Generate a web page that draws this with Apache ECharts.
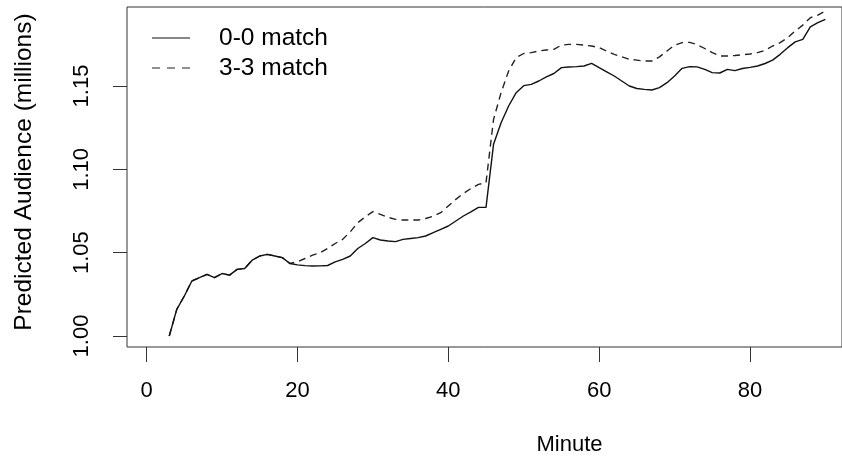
<!DOCTYPE html>
<html>
<head>
<meta charset="utf-8">
<script src="https://cdn.jsdelivr.net/npm/echarts@6/dist/echarts.min.js"></script>
<style>html,body{margin:0;padding:0;background:#fff}#c{width:842px;height:461px}</style>
</head>
<body>
<div id="c"></div>
<script>
const minutes = [3,4,5,6,7,8,9,10,11,12,13,14,15,16,17,18,19,20,21,22,23,24,25,26,27,28,29,30,31,32,33,34,35,36,37,38,39,40,41,42,43,44,45,46,47,48,49,50,51,52,53,54,55,56,57,58,59,60,61,62,63,64,65,66,67,68,69,70,71,72,73,74,75,76,77,78,79,80,81,82,83,84,85,86,87,88,89,90];
const match00 = [1.000,1.016,1.024,1.033,1.035,1.037,1.035,1.0375,1.0365,1.040,1.0405,1.0455,1.048,1.049,1.048,1.047,1.0435,1.0427,1.0422,1.042,1.0421,1.0423,1.0445,1.046,1.048,1.0525,1.0555,1.059,1.0576,1.057,1.0566,1.058,1.0585,1.059,1.060,1.062,1.064,1.066,1.069,1.072,1.0745,1.0772,1.0772,1.115,1.128,1.138,1.146,1.1502,1.151,1.153,1.1555,1.1575,1.161,1.1614,1.1616,1.162,1.1636,1.161,1.1585,1.156,1.153,1.150,1.1485,1.148,1.1476,1.149,1.152,1.156,1.1606,1.1616,1.1615,1.160,1.158,1.1578,1.160,1.1592,1.1605,1.1612,1.162,1.1635,1.1655,1.169,1.173,1.1765,1.178,1.1855,1.188,1.190];
const match33 = [1.000,1.016,1.024,1.033,1.035,1.037,1.035,1.0375,1.0365,1.040,1.0405,1.0455,1.048,1.049,1.048,1.047,1.0435,1.0445,1.0465,1.0485,1.050,1.0525,1.0555,1.058,1.0625,1.068,1.0715,1.0746,1.073,1.0712,1.070,1.0696,1.0696,1.0696,1.0705,1.0718,1.074,1.078,1.082,1.0855,1.0885,1.091,1.092,1.130,1.146,1.159,1.167,1.1695,1.170,1.171,1.1716,1.172,1.1745,1.175,1.175,1.1745,1.174,1.173,1.171,1.169,1.1675,1.166,1.1655,1.165,1.165,1.1675,1.171,1.1745,1.176,1.1762,1.1748,1.1725,1.170,1.168,1.168,1.1683,1.1688,1.1692,1.170,1.1714,1.174,1.176,1.179,1.183,1.1865,1.191,1.1925,1.195];
const xTicks = [0,20,40,60,80];
const yTicks = [1.00,1.05,1.10,1.15];
const seriesNames = ['0-0 match','3-3 match'];

const FONT = 'Liberation Sans, Arial, Helvetica, sans-serif';
const chart = echarts.init(document.getElementById('c'));
chart.setOption({
  animation: false,
  backgroundColor: '#fff',
  textStyle: {fontFamily: FONT},
  grid: {left: 127, right: -1, top: 7, bottom: 114, show: true, borderColor: '#333', borderWidth: 1, backgroundColor: 'transparent'},
  legend: {
    left: 147, top: 18, orient: 'vertical', itemWidth: 38, itemHeight: 1.5, itemGap: 0,
    textStyle: {fontSize: 24.5, color: '#000', fontFamily: FONT, padding: [0,0,0,24], lineHeight: 30},
    data: [
      {name: seriesNames[0], icon: 'path://M0,0h38v1h-38z'},
      {name: seriesNames[1], icon: 'path://M0,0h8v1h-8zM15,0h8v1h-8zM30,0h8v1h-8z'}
    ]
  },
  xAxis: {
    type: 'value', min: -2.6, max: 92.2,
    name: 'Minute', nameLocation: 'middle', nameGap: 87,
    nameTextStyle: {fontSize: 22, color: '#000', fontFamily: FONT, padding: [0,0,0,170]},
    axisLine: {show: false, onZero: false},
    splitLine: {show: false},
    axisTick: {show: true, length: 15, lineStyle: {color: '#333', width: 1}, customValues: xTicks},
    axisLabel: {fontSize: 22, color: '#000', margin: 33, fontFamily: FONT, customValues: xTicks}
  },
  yAxis: {
    type: 'value', min: 0.9934, max: 1.1974,
    name: 'Predicted Audience (millions)', nameLocation: 'middle', nameGap: 90, nameRotate: 90,
    nameTextStyle: {fontSize: 24.5, color: '#000', fontFamily: FONT, padding: [0,0,0,10]},
    axisLine: {show: false, onZero: false},
    splitLine: {show: false},
    axisTick: {show: true, length: 14, lineStyle: {color: '#333', width: 1}, customValues: yTicks},
    axisLabel: {fontSize: 22, color: '#000', margin: 34, rotate: 90, fontFamily: FONT, customValues: yTicks,
      formatter: v => v.toFixed(2)}
  },
  series: [
    {name: seriesNames[0], type: 'line', symbol: 'none', data: minutes.map((m,i)=>[m, match00[i]]),
     lineStyle: {color: '#111', width: 1.4, type: 'solid'}, itemStyle: {color: '#111'}, z: 3},
    {name: seriesNames[1], type: 'line', symbol: 'none', data: minutes.map((m,i)=>[m, match33[i]]),
     lineStyle: {color: '#222', width: 1.4, type: [7,5]}, itemStyle: {color: '#222'}, z: 2}
  ]
});
</script>
</body>
</html>
